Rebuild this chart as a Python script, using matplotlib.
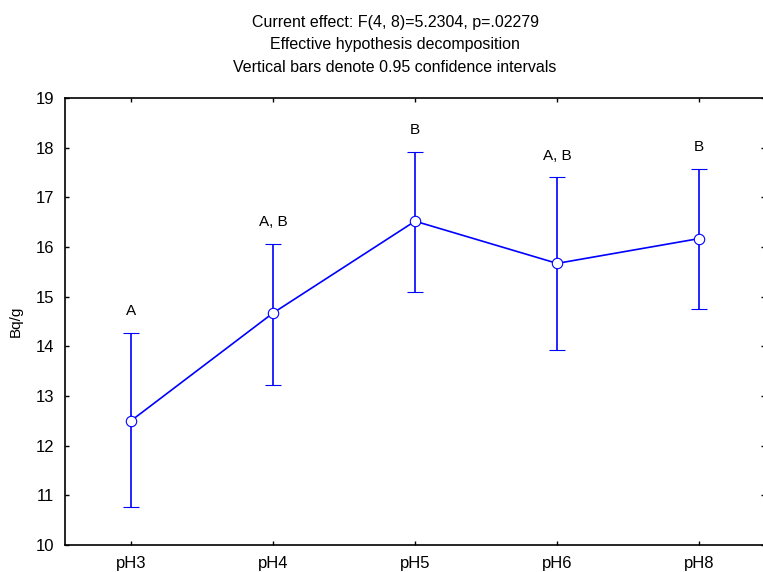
import numpy as np
import matplotlib
matplotlib.use("Agg")
import matplotlib.pyplot as plt

plt.rcParams["font.family"] = ["Liberation Sans", "DejaVu Sans"]

# data
groups = ["pH3", "pH4", "pH5", "pH6", "pH8"]
means = [12.50, 14.67, 16.52, 15.67, 16.17]
lower = [10.77, 13.23, 15.10, 13.92, 14.75]
upper = [14.27, 16.06, 17.92, 17.40, 17.58]
letters = ["A", "A, B", "B", "A, B", "B"]

title_lines = [
    "Current effect: F(4, 8)=5.2304, p=.02279",
    "Effective hypothesis decomposition",
    "Vertical bars denote 0.95 confidence intervals",
]

x = np.arange(len(groups))
means = np.array(means)
err = np.vstack([means - np.array(lower), np.array(upper) - means])

fig = plt.figure(figsize=(7.63, 5.72), dpi=100)
ax = fig.add_axes([65 / 763, 1 - 545 / 572, 1.0 - 65 / 763 + 0.002, (545 - 98) / 572])

ax.errorbar(x, means, yerr=err, color="#0000ff", lw=1.2, capsize=5.8,
            capthick=1.2, elinewidth=1.2, marker="o", markersize=7.5,
            markerfacecolor="white", markeredgecolor="#0000ff",
            markeredgewidth=0.8, zorder=3)

for xi, up, lab in zip(x, upper, letters):
    ax.annotate(lab, (xi, up), xytext=(0, 15.5), textcoords="offset points",
                ha="center", va="center", fontsize=11)

ax.set_xlim(-0.464, 4.46)
ax.set_ylim(10, 19)
ax.set_yticks(range(10, 20))
ax.set_xticks(x)
ax.set_xticklabels(groups)
ax.tick_params(direction="in", length=3, width=1, labelsize=12,
               top=True, right=True, pad=8)
for s in ax.spines.values():
    s.set_linewidth(1.2)
ax.set_ylabel("Bq/g", fontsize=11, labelpad=9)

for i, line in enumerate(title_lines):
    fig.text(395 / 763, 1 - (22 + 23 * i) / 572, line, ha="center",
             va="center", fontsize=11.5)

fig.savefig("out.png", dpi=100)
